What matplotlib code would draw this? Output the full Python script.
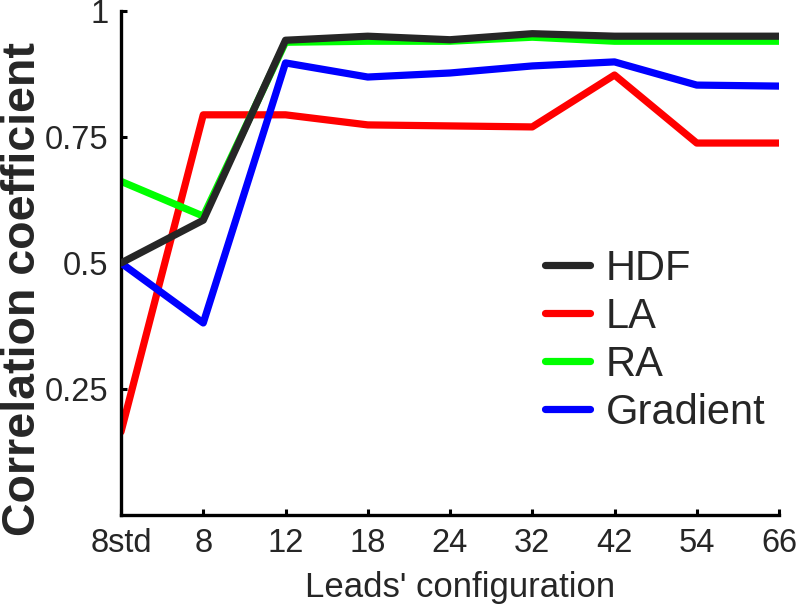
import matplotlib
matplotlib.use('Agg')
import matplotlib.pyplot as plt

plt.rcParams['font.family'] = ['Liberation Sans', 'DejaVu Sans']

# 데이터
configs = ['8std', '8', '12', '18', '24', '32', '42', '54', '66']
hdf = [0.50, 0.585, 0.942, 0.950, 0.943, 0.955, 0.950, 0.950, 0.950]
la = [0.165, 0.794, 0.794, 0.774, 0.772, 0.770, 0.873, 0.738, 0.738]
ra = [0.662, 0.593, 0.938, 0.940, 0.940, 0.948, 0.940, 0.940, 0.940]
grad = [0.50, 0.381, 0.897, 0.869, 0.877, 0.891, 0.899, 0.853, 0.851]

yticks = [0.25, 0.5, 0.75, 1]
ytick_labels = ['0.25', '0.5', '0.75', '1']

text_col = '#262626'
x = list(range(len(configs)))

fig = plt.figure(figsize=(8, 6.07), dpi=100)
ax = fig.add_axes([121 / 800, 92 / 607, 658 / 800, 504 / 607])

lw = 5.2
l_la, = ax.plot(x, la, color='#ff0000', lw=lw, solid_capstyle='round', zorder=2)
l_ra, = ax.plot(x, ra, color='#00ff00', lw=lw, solid_capstyle='round', zorder=2)
l_gr, = ax.plot(x, grad, color='#0000ff', lw=lw, solid_capstyle='round', zorder=3)
l_hdf, = ax.plot(x, hdf, color='#262626', lw=lw, solid_capstyle='round', zorder=4)

ax.set_xlim(0, len(configs) - 1)
ax.set_ylim(0, 1)
ax.set_xticks(x)
ax.set_xticklabels(configs)
ax.set_yticks(yticks)
ax.set_yticklabels(ytick_labels)

for s in ['top', 'right']:
    ax.spines[s].set_visible(False)
for s in ['left', 'bottom']:
    ax.spines[s].set_linewidth(2.4)
    ax.spines[s].set_capstyle('projecting')

ax.tick_params(direction='in', length=4, width=2.2, labelsize=23.5,
               labelcolor=text_col, pad=9)

ax.set_xlabel("Leads' configuration", fontsize=25, color=text_col)
ax.xaxis.set_label_coords(0.515, -0.112)
ax.set_ylabel('Correlation coefficient', fontsize=33.5, fontweight='bold',
              color=text_col)
ax.yaxis.set_label_coords(-0.116, 0.448)

leg = ax.legend([l_hdf, l_la, l_ra, l_gr], ['HDF', 'LA', 'RA', 'Gradient'],
                frameon=False, fontsize=30, handlelength=1.08, handletextpad=0.38,
                labelspacing=0.19, borderpad=0, borderaxespad=0, loc='upper left',
                bbox_to_anchor=(545 / 800, 1 - 249 / 607),
                bbox_transform=fig.transFigure)
for t in leg.get_texts():
    t.set_color(text_col)

fig.savefig('out.png', dpi=100)
